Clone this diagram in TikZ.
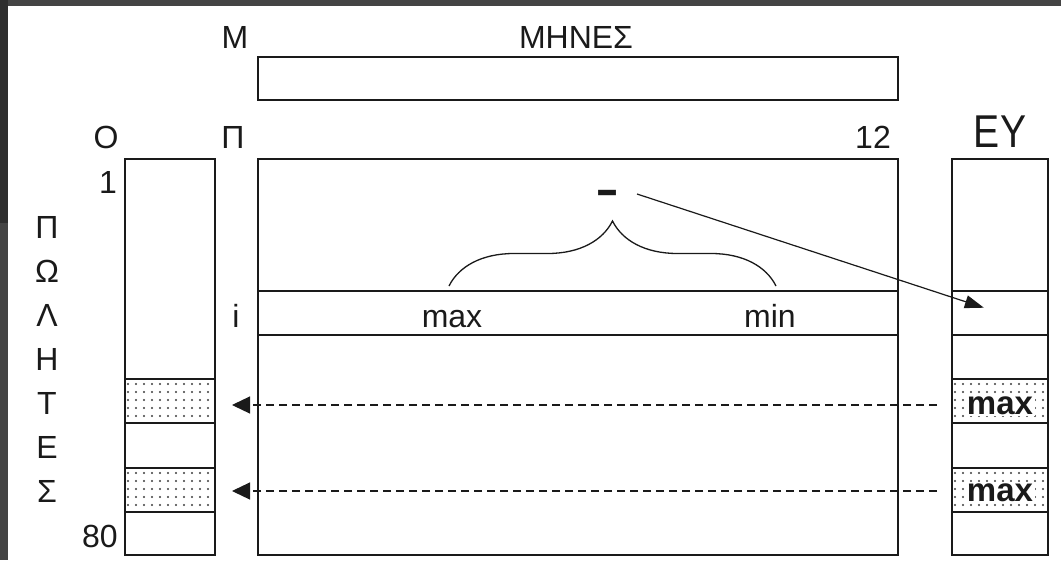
\documentclass[tikz,border=0pt]{standalone}
\usepackage{fontspec}
\setmainfont{Liberation Sans}
\usetikzlibrary{arrows.meta,decorations.pathreplacing}
\definecolor{frameA}{HTML}{444444}
\definecolor{frameB}{HTML}{2E2E2E}
\definecolor{ink}{HTML}{1A1A1A}
\begin{document}
\begin{tikzpicture}[x=1pt,y=-1pt,
  cell/.style={draw=ink,line width=1.5pt,inner sep=0pt,outer sep=0pt},
  lbl/.style={font=\fontsize{32}{38}\selectfont,anchor=base,inner sep=0pt,text=ink},
  biglbl/.style={font=\fontsize{46}{52}\selectfont,anchor=base,inner sep=0pt,text=ink},
  boldlbl/.style={font=\bfseries\fontsize{33}{38}\selectfont,anchor=base,inner sep=1.5pt,fill=white,text=ink},
  arr/.style={draw=ink,line width=1.2pt,-{Triangle[length=19pt,width=13pt]}},
  darr/.style={draw=ink,line width=1.2pt,dash pattern=on 8pt off 5pt,-{Triangle[length=18pt,width=17pt]}},
  bracestyle/.style={draw=ink,line width=1.3pt,decorate,decoration={brace,amplitude=65pt}}
]
\useasboundingbox (0,0) rectangle (1061,560);
\fill[white] (0,0) rectangle (1061,560);
\fill[frameA] (0,0) rectangle (1061,6);
\fill[frameA] (0,0) rectangle (8,560);
\fill[frameB] (0,0) rectangle (8,223);

% dotted fills
\foreach \cx/\cy/\cw in {125/379/90,125/468/90,952/379/96,952/468/96}{
  \begin{scope}
    \clip (\cx,\cy) rectangle ++(\cw,44);
    \foreach \i in {0,...,12}{
      \foreach \j in {0,...,5}{
        \fill[ink!85] (\cx+3+\i*8,\cy+5+\j*8) circle (1.05pt);
      }
    }
  \end{scope}
}

% boxes
\node[cell,minimum width=640pt,minimum height=43pt] (months) at (578,78.5) {};
\node[cell,minimum width=640pt,minimum height=396pt] (grid) at (578,357) {};
\node[cell,minimum width=640pt,minimum height=44pt] (rowi) at (578,313) {};
\node[cell,minimum width=90pt,minimum height=396pt] (colO) at (170,357) {};
\node[cell,minimum width=90pt,minimum height=44pt] (lc1) at (170,401) {};
\node[cell,minimum width=90pt,minimum height=44pt] (lc2) at (170,490) {};
\node[cell,minimum width=96pt,minimum height=396pt] (colEY) at (1000,357) {};
\node[cell,minimum width=96pt,minimum height=44pt] (evT) at (1000,313) {};
\node[cell,minimum width=96pt,minimum height=44pt] (ev1) at (1000,401) {};
\node[cell,minimum width=96pt,minimum height=44pt] (ev2) at (1000,490) {};

% labels
\node[lbl] (lM) at (235,48) {Μ};
\node[lbl] (lMHNES) at (576,48) {ΜΗΝΕΣ};
\node[lbl] (lO) at (106,148) {Ο};
\node[lbl] (lP) at (233,148) {Π};
\node[lbl] (l12) at (873,148) {12};
\node[biglbl,xscale=0.85] (lEY) at (1000,147) {ΕΥ};
\node[lbl] (l1) at (108,193) {1};
\node[lbl] (l80) at (100,547) {80};
\node[lbl] (li) at (236,327) {i};
\node[lbl] (lmax) at (452,327) {max};
\node[lbl] (lmin) at (770,327) {min};
\node[boldlbl] (bmax1) at (1000,414) {max};
\node[boldlbl] (bmax2) at (1000,501) {max};

\foreach \ch/\yy [count=\k] in {Π/238,Ω/282,Λ/326,Η/370,Τ/414,Ε/458,Σ/502}{
  \node[lbl] (g\k) at (47,\yy) {\ch};
}

% minus sign
\node[font=\bfseries\fontsize{36}{40}\selectfont,anchor=base,inner sep=0pt,text=ink] (dash) at (608,207) {\scalebox{1}[1.5]{–}};

% brace
\coordinate (bl) at (449,286);
\coordinate (br) at (776,286);
\draw[bracestyle] (bl) -- (br);

% arrow
\coordinate (arrS) at (637,194);
\draw[arr,shorten >=17pt] (arrS) -- (evT.center);

% dashed arrows
\draw[darr,shorten <=15pt,shorten >=17pt] ([yshift=-4pt]ev1.west) -- ([yshift=-4pt]lc1.east);
\draw[darr,shorten <=15pt,shorten >=17pt] ([yshift=-1pt]ev2.west) -- ([yshift=-1pt]lc2.east);
\end{tikzpicture}
\end{document}
